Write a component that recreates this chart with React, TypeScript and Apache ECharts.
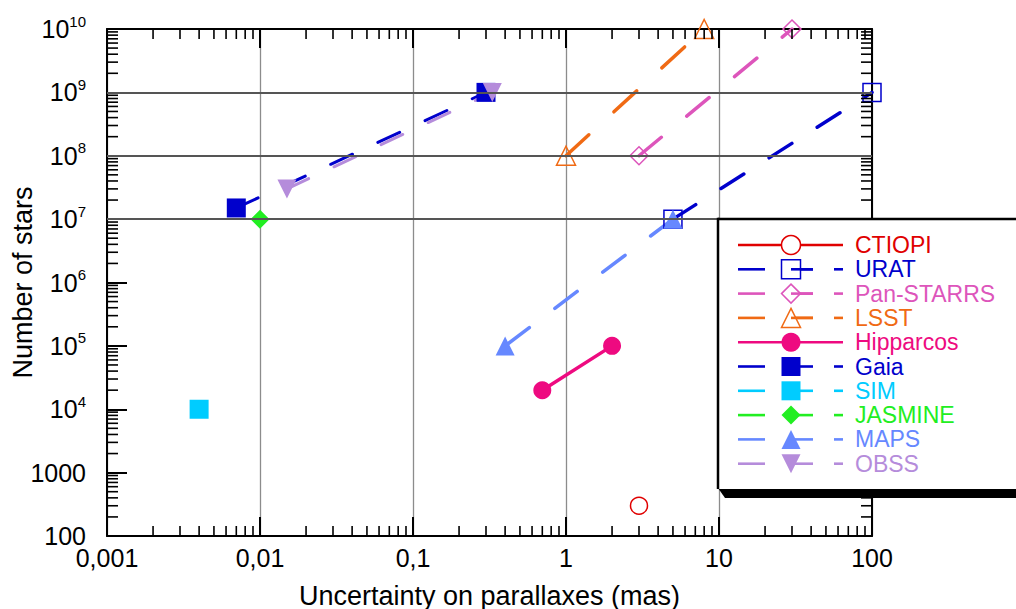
import React, { useEffect, useRef } from "react";
import * as echarts from "echarts";

const FONT = '"Liberation Sans", Arial, Helvetica, sans-serif';

// ---------- data ----------
const seriesNames = ["CTIOPI", "URAT", "Pan-STARRS", "LSST", "Hipparcos", "Gaia", "SIM", "JASMINE", "MAPS", "OBSS"];

const ctiopiData = [[3, 300]];
const uratData = [[5, 1e7], [100, 1e9]];
const panStarrsData = [[3, 1e8], [30, 1e10]];
const lsstData = [[1, 1e8], [8, 1e10]];
const hipparcosData = [[0.7, 2e4], [2, 1e5]];
const gaiaData = [[0.007, 1.5e7], [0.3, 1e9]];
const simData = [[0.004, 1e4]];
const jasmineData = [[0.01, 1e7]];
const mapsData = [[5, 1e7], [0.4, 1e5]];
const obssData = [[0.015, 3e7], [0.33, 1e9]];

const xTickLabels = ["0,001", "0,01", "0,1", "1", "10", "100"];
const yTickLabels = ["100", "1000", "10^4", "10^5", "10^6", "10^7", "10^8", "10^9", "10^10"];
const referenceLines = [1e7, 1e8, 1e9];

const X_MIN = 0.001;
const X_MAX = 100;
const Y_MIN = 100;
const Y_MAX = 1e10;
const minorMultipliers = [2, 3, 4, 5, 6, 7, 8, 9];
const xDecades = [0.001, 0.01, 0.1, 1, 10];
const yDecades = [1e2, 1e3, 1e4, 1e5, 1e6, 1e7, 1e8, 1e9];

// ---------- styles ----------
type Sty = { color: string; symbol: string; size: number; rotate?: number; open?: boolean; dash?: number[] | null; width: number };
const styles: Record<string, Sty> = {
  CTIOPI: { color: "#e00000", symbol: "circle", size: 17, open: true, dash: null, width: 3 },
  URAT: { color: "#0000cc", symbol: "rect", size: 18, open: true, dash: [27, 30], width: 3.5 },
  "Pan-STARRS": { color: "#dd55bb", symbol: "diamond", size: 18, open: true, dash: [29, 33], width: 3.5 },
  LSST: { color: "#f06a14", symbol: "triangle", size: 19, open: true, dash: [31, 34], width: 3.5 },
  Hipparcos: { color: "#ee0a80", symbol: "circle", size: 18, open: false, dash: null, width: 3.5 },
  Gaia: { color: "#0000cc", symbol: "rect", size: 19, open: false, dash: [24, 28], width: 3 },
  SIM: { color: "#00ccff", symbol: "rect", size: 19, open: false, dash: [27, 30], width: 3 },
  JASMINE: { color: "#22ee22", symbol: "diamond", size: 19, open: false, dash: [27, 30], width: 3 },
  MAPS: { color: "#6688ff", symbol: "triangle", size: 19, open: false, dash: [28, 32], width: 3.5 },
  OBSS: { color: "#b58cdb", symbol: "triangle", size: 19, rotate: 180, open: false, dash: [24, 28], width: 3 },
};

const seriesData: Record<string, number[][]> = {
  CTIOPI: ctiopiData,
  URAT: uratData,
  "Pan-STARRS": panStarrsData,
  LSST: lsstData,
  Hipparcos: hipparcosData,
  Gaia: gaiaData,
  SIM: simData,
  JASMINE: jasmineData,
  MAPS: mapsData,
  OBSS: obssData,
};

function xLabel(v: number) {
  const i = Math.round(Math.log10(v)) + 3;
  return xTickLabels[i] ?? "";
}
function yLabel(v: number) {
  const i = Math.round(Math.log10(v)) - 2;
  const t = yTickLabels[i] ?? "";
  if (t.includes("^")) {
    const [b, e] = t.split("^");
    return `{b|${b}}{s|${e}}`;
  }
  return t;
}

function buildLegend() {
  const els: any[] = [];
  const L = 718, T = 219, B = 489, R = 1016;
  let order = 0;
  const add = (el: any) => {
    el.z = 1000;
    el.z2 = order++;
    el.silent = true;
    els.push(el);
  };
  add({ type: "polygon", shape: { points: [[L, B - 1], [R, B - 1], [R, B + 9], [L + 7, B + 9]] }, style: { fill: "#000" } });
  add({ type: "polygon", shape: { points: [[L, T], [R, T], [R, B], [L, B]] }, style: { fill: "#fff" } });
  add({ type: "line", shape: { x1: L, y1: T, x2: R, y2: T }, style: { stroke: "#000", lineWidth: 2.5 } });
  add({ type: "line", shape: { x1: L, y1: T - 1.2, x2: L, y2: B }, style: { stroke: "#000", lineWidth: 2.5 } });

  const mx = 791;
  seriesNames.forEach((name, i) => {
    const s = styles[name];
    const y = 245 + i * 24.3;
    const ls = { stroke: s.color, lineWidth: 2.6 };
    const segs = s.dash ? [[738, 765], [mx, 813], [834, 843]] : [[738, 843]];
    segs.forEach(([a, b]) => add({ type: "line", shape: { x1: a, y1: y, x2: b, y2: y }, style: { ...ls } }));
    const st = s.open ? { fill: "#fff", stroke: s.color, lineWidth: 1.5 } : { fill: s.color };
    const h = 9.5;
    let m: any;
    if (s.symbol === "circle") m = { type: "circle", shape: { cx: mx, cy: y, r: h } };
    else if (s.symbol === "rect") m = { type: "rect", shape: { x: mx - h, y: y - h, width: 2 * h, height: 2 * h } };
    else if (s.symbol === "diamond") m = { type: "polygon", shape: { points: [[mx, y - h], [mx + h, y], [mx, y + h], [mx - h, y]] } };
    else if (s.rotate === 180) m = { type: "polygon", shape: { points: [[mx - h, y - h], [mx + h, y - h], [mx, y + h]] } };
    else m = { type: "polygon", shape: { points: [[mx, y - h], [mx + h, y + h], [mx - h, y + h]] } };
    m.style = st;
    add(m);
    if (s.open && s.symbol !== "circle") {
      add({ type: "line", shape: { x1: mx, y1: y, x2: 813, y2: y }, style: { ...ls } });
    }
    add({
      type: "text",
      x: 855,
      y: y,
      style: { text: name, fill: s.color, fontSize: 23, fontFamily: FONT, verticalAlign: "middle", align: "left" },
    });
  });
  return els;
}

export default function App() {
  const ref = useRef<HTMLDivElement>(null);
  useEffect(() => {
    if (!ref.current) return;
    const chart = echarts.init(ref.current, null, { renderer: "svg" });

    const lineSeries = seriesNames.map((name) => {
      const s = styles[name];
      return {
        type: "line",
        name,
        data: seriesData[name],
        xAxisIndex: 0,
        yAxisIndex: 0,
        symbol: s.symbol,
        symbolSize: s.size,
        symbolRotate: s.rotate ?? 0,
        showSymbol: true,
        clip: false,
        z: 3,
        lineStyle: { color: s.color, width: s.width, type: s.dash ? s.dash : "solid", cap: "round" },
        itemStyle: s.open
          ? { color: "rgba(255,255,255,0)", borderColor: s.color, borderWidth: 1.5 }
          : { color: s.color, borderWidth: 0 },
        emphasis: { disabled: true },
      };
    });

    const tickLine = (x1: number, y1: number, x2: number, y2: number) => ({
      type: "line",
      shape: { x1, y1, x2, y2 },
      style: { stroke: "#000", lineWidth: 1.6 },
    });

    const xMinor: number[] = [];
    xDecades.forEach((d) => minorMultipliers.forEach((k) => xMinor.push(d * k)));
    const yMinor: number[] = [];
    yDecades.forEach((d) => minorMultipliers.forEach((k) => yMinor.push(d * k)));

    const option: any = {
      animation: false,
      backgroundColor: "#fff",
      textStyle: { fontFamily: FONT },
      tooltip: { show: false },
      grid: { left: 107, top: 29, right: 144, bottom: 73, containLabel: false, outerBoundsMode: "none" },
      xAxis: [
        {
          type: "log",
          logBase: 10,
          min: X_MIN,
          max: X_MAX,
          position: "bottom",
          axisLine: { show: true, onZero: false, lineStyle: { color: "#000", width: 2 } },
          axisTick: { show: true, inside: true, length: 19, lineStyle: { color: "#000", width: 2 } },
          axisLabel: { show: true, margin: 9, fontSize: 25, color: "#000", fontFamily: FONT, formatter: xLabel, interval: 0 },
          splitLine: { show: true, lineStyle: { color: "#8c8c8c", width: 1.3 } },
          minorTick: { show: false },
          axisPointer: { show: false },
          name: "Uncertainty on parallaxes (mas)",
          nameLocation: "middle",
          nameGap: 46,
          nameMoveOverlap: false,
          nameTextStyle: { fontSize: 27, color: "#000", fontFamily: FONT },
        },
        {
          type: "log",
          logBase: 10,
          min: X_MIN,
          max: X_MAX,
          position: "top",
          axisLine: { show: true, onZero: false, lineStyle: { color: "#000", width: 2 } },
          axisTick: { show: true, inside: true, length: 19, lineStyle: { color: "#000", width: 2 } },
          axisLabel: { show: false },
          axisPointer: { show: false },
          splitLine: { show: false },
        },
      ],
      yAxis: [
        {
          type: "log",
          logBase: 10,
          min: Y_MIN,
          max: Y_MAX,
          position: "left",
          axisLine: { show: true, onZero: false, lineStyle: { color: "#000", width: 2 } },
          axisTick: { show: true, inside: true, length: 20, lineStyle: { color: "#000", width: 2 } },
          axisPointer: { show: false },
          axisLabel: {
            show: true,
            margin: 21,
            fontSize: 25,
            color: "#000",
            fontFamily: FONT,
            formatter: yLabel,
            interval: 0,
            rich: {
              b: { fontSize: 25, color: "#000", fontFamily: FONT },
              s: { fontSize: 15, color: "#000", fontFamily: FONT, padding: [0, 0, 16, 0] },
            },
          },
          splitLine: { show: false },
          name: "Number of stars",
          nameLocation: "middle",
          nameGap: 71,
          nameMoveOverlap: false,
          nameTextStyle: { fontSize: 27, color: "#000", fontFamily: FONT },
        },
        {
          type: "log",
          logBase: 10,
          min: Y_MIN,
          max: Y_MAX,
          position: "right",
          axisLine: { show: true, onZero: false, lineStyle: { color: "#000", width: 2 } },
          axisTick: { show: true, inside: true, length: 20, lineStyle: { color: "#000", width: 2 } },
          axisLabel: { show: false },
          axisPointer: { show: false },
          splitLine: { show: false },
        },
      ],
      series: [
        {
          type: "line",
          name: "refLines",
          data: [],
          z: 1,
          silent: true,
          markLine: {
            silent: true,
            symbol: ["none", "none"],
            label: { show: false },
            lineStyle: { type: "solid", color: "#555", width: 2 },
            emphasis: { disabled: true },
            data: referenceLines.map((v) => ({ yAxis: v })),
          },
        },
        {
          type: "custom",
          name: "minorTicks",
          xAxisIndex: 0,
          yAxisIndex: 0,
          silent: true,
          clip: false,
          z: 4,
          data: [[1, 1000]],
          renderItem: (_p: any, api: any) => {
            const children: any[] = [];
            const [xL, yB] = api.coord([X_MIN, Y_MIN]);
            const [xR, yT] = api.coord([X_MAX, Y_MAX]);
            xMinor.forEach((v) => {
              const px = api.coord([v, Y_MIN])[0];
              children.push(tickLine(px, yB, px, yB - 10));
              children.push(tickLine(px, yT, px, yT + 10));
            });
            yMinor.forEach((v) => {
              const py = api.coord([X_MIN, v])[1];
              children.push(tickLine(xL, py, xL + 11, py));
              children.push(tickLine(xR, py, xR - 11, py));
            });
            return { type: "group", children };
          },
        },
        ...lineSeries,
      ],
      graphic: { elements: buildLegend() },
    };

    chart.setOption(option);
    return () => chart.dispose();
  }, []);

  return <div ref={ref} style={{ position: "absolute", left: 0, top: 0, width: 1016, height: 609 }} />;
}
